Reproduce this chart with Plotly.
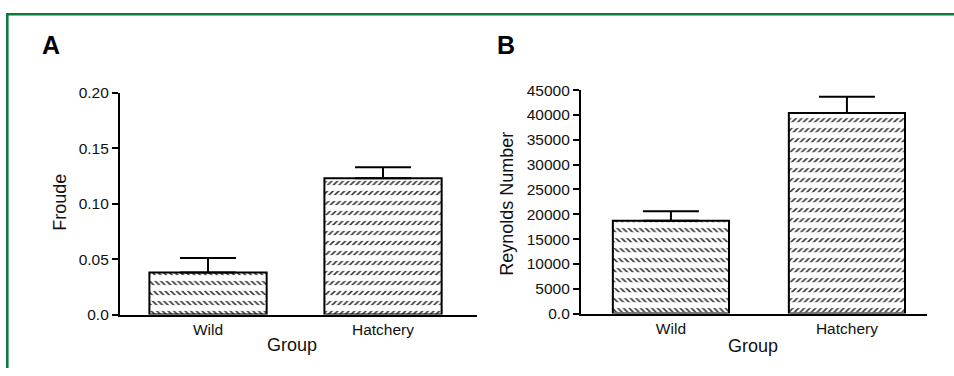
import plotly.graph_objects as go

# Group means and standard errors
groups = ["Wild", "Hatchery"]
froude_mean = [0.038, 0.123]
froude_sem = [0.013, 0.010]
reynolds_mean = [18700, 40400]
reynolds_sem = [1900, 3250]

froude_ticks = [0, 0.05, 0.10, 0.15, 0.20]
froude_ticktext = ["0.0", "0.05", "0.10", "0.15", "0.20"]
reynolds_ticks = [0, 5000, 10000, 15000, 20000, 25000, 30000, 35000, 40000, 45000]
reynolds_ticktext = ["0.0", "5000", "10000", "15000", "20000", "25000",
                     "30000", "35000", "40000", "45000"]

W, H = 954, 376
FONT = "Liberation Sans, Arial, Helvetica, sans-serif"
hatch = ["\\", "/"]


def px_x(p):
    return p / W


def px_y(p):
    return 1 - p / H


def add_panel(fig, xa, ya, means, sems, width):
    # diagonal hatch fill
    fig.add_trace(go.Bar(
        x=groups, y=means, width=width, xaxis=xa, yaxis=ya,
        marker=dict(color="white", line=dict(width=0),
                    pattern=dict(shape=hatch, fgcolor="#2e2e2e", bgcolor="white",
                                 size=4, solidity=0.38, fillmode="replace")),
        showlegend=False, hoverinfo="skip"))
    # white horizontal bands break the hatch into rows of short dashes
    fig.add_trace(go.Bar(
        x=groups, y=means, width=width, xaxis=xa, yaxis=ya,
        marker=dict(color="rgba(0,0,0,0)", line=dict(width=0),
                    pattern=dict(shape="-", fgcolor="white", bgcolor="rgba(0,0,0,0)",
                                 size=10, solidity=0.58, fillmode="replace")),
        showlegend=False, hoverinfo="skip"))
    # outline and upper error bar
    fig.add_trace(go.Bar(
        x=groups, y=means, width=width, xaxis=xa, yaxis=ya,
        marker=dict(color="rgba(0,0,0,0)", line=dict(color="black", width=2)),
        error_y=dict(type="data", array=sems, arrayminus=[0] * len(sems),
                     symmetric=False, color="black", thickness=2, width=28),
        showlegend=False))


fig = go.Figure()
add_panel(fig, "x", "y", froude_mean, froude_sem, 0.67)
add_panel(fig, "x2", "y2", reynolds_mean, reynolds_sem, 0.66)

axis_common = dict(showline=True, linecolor="black", linewidth=2.2,
                   showgrid=False, zeroline=False,
                   tickfont=dict(family=FONT, size=15.5, color="#111"))

fig.update_layout(
    width=W, height=H,
    margin=dict(l=0, r=0, t=0, b=0, pad=0),
    paper_bgcolor="white", plot_bgcolor="white",
    barmode="overlay",
    font=dict(family=FONT, color="#111"),
    xaxis=dict(domain=[px_x(120), px_x(477)], range=[-0.503, 1.537],
               ticks="", anchor="y", **axis_common),
    yaxis=dict(domain=[px_y(320), px_y(88)], range=[0, 0.2],
               tickvals=froude_ticks, ticktext=froude_ticktext,
               ticks="outside", ticklen=6, tickwidth=2, tickcolor="black",
               anchor="x", **axis_common),
    xaxis2=dict(domain=[px_x(581), px_x(927)], range=[-0.511, 1.455],
                ticks="", anchor="y2", **axis_common),
    yaxis2=dict(domain=[px_y(319), px_y(85)], range=[0, 45000],
                tickvals=reynolds_ticks, ticktext=reynolds_ticktext,
                ticks="outside", ticklen=6, tickwidth=2, tickcolor="black",
                anchor="x2", **axis_common),
)

title_font = dict(family=FONT, size=18, color="#111")
panel_font = dict(family=FONT, size=25, color="black")
annotations = [
    dict(text="<b>A</b>", x=px_x(51), y=px_y(38), font=panel_font),
    dict(text="<b>B</b>", x=px_x(506), y=px_y(38), font=panel_font),
    dict(text="Froude", x=px_x(60), y=px_y(203), textangle=-90, font=title_font),
    dict(text="Reynolds Number", x=px_x(507), y=px_y(204), textangle=-90, font=title_font),
    dict(text="Group", x=px_x(292), y=px_y(352), font=title_font),
    dict(text="Group", x=px_x(753), y=px_y(353), font=title_font),
]
for a in annotations:
    a.update(xref="paper", yref="paper", showarrow=False,
             xanchor="center", yanchor="middle")
fig.update_layout(annotations=annotations)

# green frame along the top and left edges
frame = dict(color="#0d7a3b", width=2.6)
fig.add_shape(type="line", xref="paper", yref="paper",
              x0=px_x(6), x1=1, y0=px_y(5.5), y1=px_y(5.5), line=frame, layer="above")
fig.add_shape(type="line", xref="paper", yref="paper",
              x0=px_x(7.3), x1=px_x(7.3), y0=0, y1=px_y(4.2), line=frame, layer="above")

fig.write_html("out.html")
